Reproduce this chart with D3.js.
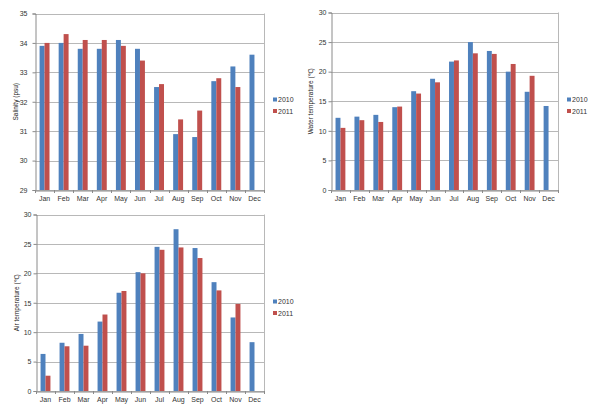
<!DOCTYPE html>
<html><head><meta charset="utf-8">
<script src="https://cdn.jsdelivr.net/npm/d3@7"></script>
<style>body{margin:0;background:#fff}svg{display:block}text{font-family:"Liberation Sans",Arial,sans-serif;}</style>
</head><body>
<svg id="c" width="601" height="415"></svg>
<script>
const months = ["Jan","Feb","Mar","Apr","May","Jun","Jul","Aug","Sep","Oct","Nov","Dec"];
const seriesNames = ["2010","2011"];
const salinity2010 = [33.9,34.0,33.8,33.8,34.1,33.8,32.5,30.9,30.8,32.7,33.2,33.6];
const salinity2011 = [34.0,34.3,34.1,34.1,33.9,33.4,32.6,31.4,31.7,32.8,32.5,null];
const water2010 = [12.2,12.4,12.7,14.0,16.7,18.8,21.7,25.0,23.5,20.0,16.6,14.2];
const water2011 = [10.5,11.8,11.5,14.1,16.3,18.2,21.9,23.1,23.0,21.3,19.3,null];
const air2010 = [6.3,8.2,9.7,11.8,16.7,20.2,24.5,27.5,24.3,18.5,12.5,8.3];
const air2011 = [2.6,7.6,7.7,13.0,17.0,20.0,24.0,24.4,22.6,17.1,14.8,null];
const salinityTicks = [29,30,31,32,33,34,35];
const waterTicks = [0,5,10,15,20,25,30];
const airTicks = [0,5,10,15,20,25,30];
const colors = ["#4F81BD","#C0504D"];

const svg = d3.select("#c");

function drawChart(cfg){
  const g = svg.append("g");
  const x = d3.scaleBand().domain(months).range([cfg.x0, cfg.x1]);
  const y = d3.scaleLinear().domain([cfg.ticks[0], cfg.ticks[cfg.ticks.length-1]]).range([cfg.y1, cfg.y0]);
  g.selectAll(".grid").data(cfg.ticks).enter().append("line")
    .attr("x1", cfg.x0).attr("x2", cfg.x1)
    .attr("y1", d=>Math.round(y(d))+0.5).attr("y2", d=>Math.round(y(d))+0.5)
    .attr("stroke","#b8b8b8").attr("stroke-width",1);
  g.append("line").attr("x1",cfg.x1+0.5).attr("x2",cfg.x1+0.5).attr("y1",cfg.y0).attr("y2",cfg.y1)
    .attr("stroke","#b8b8b8");
  const bw = x.bandwidth()*0.26;
  [cfg.s1, cfg.s2].forEach((vals, si)=>{
    g.selectAll(".b"+si).data(vals.map((v,i)=>({m:months[i],v}))).enter()
      .filter(d=>d.v!=null)
      .append("rect")
      .attr("x", d=>x(d.m)+x.bandwidth()/2 - bw + si*bw)
      .attr("width", bw)
      .attr("y", d=>y(d.v))
      .attr("height", d=>cfg.y1 - y(d.v))
      .attr("fill", colors[si]);
  });
  const ya = g.append("g").attr("transform",`translate(${cfg.x0+0.5},0)`)
    .call(d3.axisLeft(y).tickValues(cfg.ticks).tickSize(3).tickPadding(cfg.pad).tickFormat(d3.format("d")));
  ya.select(".domain").attr("stroke","#8a8a8a");
  ya.selectAll(".tick line").attr("stroke","#8a8a8a");
  ya.selectAll("text").attr("font-size",7).attr("fill","#333");
  const xa = g.append("g").attr("transform",`translate(0,${cfg.y1+0.5})`)
    .call(d3.axisBottom(x).tickSize(0).tickPadding(6));
  xa.select(".domain").attr("stroke","#8a8a8a");
  xa.selectAll("text").attr("font-size",7).attr("fill","#333");
  const bounds = months.map(m=>x(m)).concat([cfg.x1]);
  g.selectAll(".xt").data(bounds).enter().append("line")
    .attr("x1",d=>Math.round(d)+0.5).attr("x2",d=>Math.round(d)+0.5)
    .attr("y1",cfg.y1).attr("y2",cfg.y1+3).attr("stroke","#8a8a8a");
  g.append("text").attr("transform",`translate(${cfg.lx},${(cfg.y0+cfg.y1)/2}) rotate(-90)`)
    .attr("text-anchor","middle").attr("dy","0.35em").attr("font-size",cfg.lfs).attr("fill","#222")
    .text(cfg.label);
  seriesNames.forEach((n,i)=>{
    g.append("rect").attr("x",cfg.legX).attr("y",cfg.legY+i*11.5-2.5).attr("width",4).attr("height",4).attr("fill",colors[i]);
    g.append("text").attr("x",cfg.legX+5).attr("y",cfg.legY+i*11.5).attr("dy","0.35em")
      .attr("font-size",7).attr("fill","#333").text(n);
  });
}

drawChart({x0:35,x1:264,y0:13.5,y1:190,ticks:salinityTicks,s1:salinity2010,s2:salinity2011,
  label:"Salinity (psu)",lx:16,lfs:6.5,pad:5,legX:273,legY:100});
drawChart({x0:331,x1:558,y0:12.5,y1:190,ticks:waterTicks,s1:water2010,s2:water2011,
  label:"Water temperature (℃)",lx:311,lfs:6.5,pad:2,legX:567,legY:100});
drawChart({x0:36,x1:264,y0:214.5,y1:391,ticks:airTicks,s1:air2010,s2:air2011,
  label:"Air temperature (℃)",lx:17,lfs:6.5,pad:2,legX:273,legY:302});
</script>
</body></html>
